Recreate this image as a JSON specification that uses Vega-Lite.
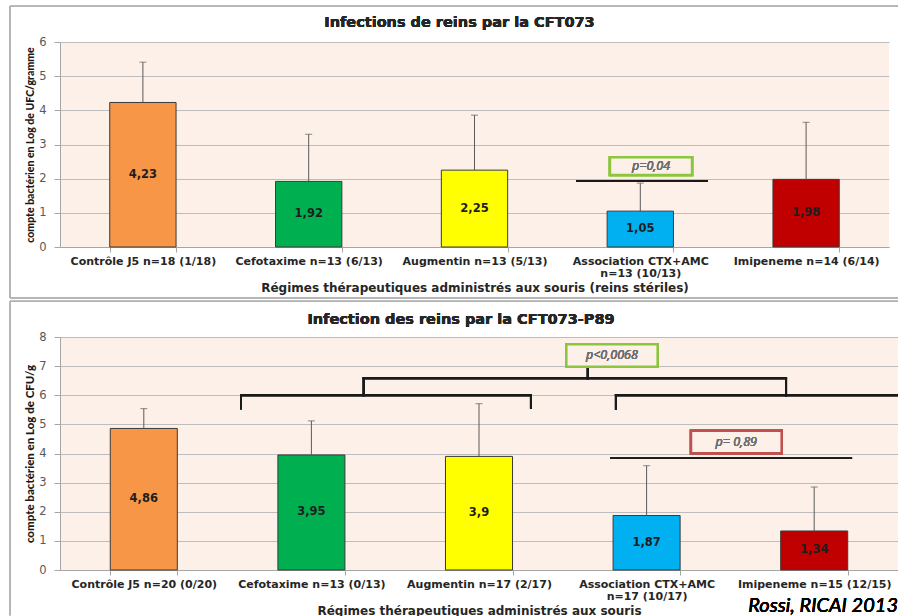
{
  "$schema": "https://vega.github.io/schema/vega-lite/v6.json",
  "padding": {"left": 9, "top": 5, "right": 0, "bottom": 0},
  "background": "white",
  "spacing": 90,
  "bounds": "flush",
  "vconcat": [
    {
      "width": 829,
      "height": 205,
      "data": {
        "values": [
          {"groupe": "Contrôle J5 n=18 (1/18)", "traitement": "Contrôle J5", "valeur": 4.23, "haut": 5.41},
          {"groupe": "Cefotaxime n=13 (6/13)", "traitement": "Cefotaxime", "valeur": 1.92, "haut": 3.30},
          {"groupe": "Augmentin n=13 (5/13)", "traitement": "Augmentin", "valeur": 2.25, "haut": 3.86},
          {"groupe": "Association CTX+AMC\nn=13 (10/13)", "traitement": "Association CTX+AMC", "valeur": 1.05, "haut": 1.87},
          {"groupe": "Imipeneme n=14 (6/14)", "traitement": "Imipeneme", "valeur": 1.98, "haut": 3.65}
        ]
      },
      "layer": [
        {
          "encoding": {
            "x": {
              "field": "groupe", "type": "nominal", "sort": null,
              "scale": {"paddingInner": 0.6, "paddingOuter": 0.3},
              "axis": {"title": "Régimes thérapeutiques administrés aux souris (reins stériles)"}
            }
          },
          "layer": [
            {
              "mark": {"type": "bar", "stroke": "#3a3a3a", "strokeWidth": 1},
              "encoding": {
                "y": {
                  "field": "valeur", "type": "quantitative",
                  "scale": {"domain": [0, 6], "nice": false},
                  "axis": {"values": [0, 1, 2, 3, 4, 5, 6], "title": "compte bactérien en Log de UFC/gramme", "titleFontSize": 10.5}
                },
                "color": {
                  "field": "traitement", "type": "nominal", "legend": null,
                  "scale": {
                    "domain": ["Contrôle J5", "Cefotaxime", "Augmentin", "Association CTX+AMC", "Imipeneme"],
                    "range": ["#f79646", "#00b050", "#ffff00", "#00b0f0", "#c00000"]
                  }
                }
              }
            },
            {
              "mark": {"type": "rule", "color": "#5a5a5a", "strokeWidth": 1},
              "encoding": {
                "y": {
                  "field": "valeur", "type": "quantitative",
                  "scale": {"domain": [0, 6], "nice": false},
                  "axis": {"values": [0, 1, 2, 3, 4, 5, 6], "title": "compte bactérien en Log de UFC/gramme", "titleFontSize": 10.5}
                },
                "y2": {"field": "haut"}
              }
            },
            {
              "mark": {"type": "tick", "color": "#5a5a5a", "thickness": 1, "size": 7},
              "encoding": {
                "y": {
                  "field": "haut", "type": "quantitative",
                  "scale": {"domain": [0, 6], "nice": false},
                  "axis": {"values": [0, 1, 2, 3, 4, 5, 6], "title": "compte bactérien en Log de UFC/gramme", "titleFontSize": 10.5}
                }
              }
            }
          ]
        },
        {
          "mark": {"type": "text", "fontWeight": "bold", "fontSize": 11.5, "color": "#1e1e1e", "baseline": "middle"},
          "encoding": {
            "x": {"field": "groupe", "type": "nominal", "sort": null, "scale": {"paddingInner": 0.6, "paddingOuter": 0.3}, "axis": null},
            "y": {"field": "valeur", "type": "quantitative", "scale": {"domain": [0, 12], "nice": false}, "axis": null},
            "text": {"field": "valeur", "type": "quantitative", "format": ".2~f"}
          }
        },
        {
          "layer": [
            {
              "mark": {"type": "rule", "color": "#b4b4b4", "strokeWidth": 1},
              "encoding": {
                "x": {"datum": -0.3016, "type": "quantitative", "scale": {"domain": [0, 5], "nice": false, "zero": false}, "axis": null},
                "x2": {"datum": 5.054},
                "y": {"datum": 7.05, "type": "quantitative", "scale": {"domain": [0, 6], "nice": false, "zero": false}, "axis": null}
              }
            },
            {
              "mark": {"type": "rule", "color": "#b4b4b4", "strokeWidth": 1},
              "encoding": {
                "x": {"datum": -0.3016, "type": "quantitative", "scale": {"domain": [0, 5], "nice": false, "zero": false}, "axis": null},
                "x2": {"datum": 5.054},
                "y": {"datum": -1.49, "type": "quantitative", "scale": {"domain": [0, 6], "nice": false, "zero": false}, "axis": null}
              }
            },
            {
              "mark": {"type": "rule", "color": "#b4b4b4", "strokeWidth": 1},
              "encoding": {
                "x": {"datum": -0.3016, "type": "quantitative", "scale": {"domain": [0, 5], "nice": false, "zero": false}, "axis": null},
                "y": {"datum": 7.05, "type": "quantitative", "scale": {"domain": [0, 6], "nice": false, "zero": false}, "axis": null},
                "y2": {"datum": -1.49}
              }
            },
            {
              "mark": {"type": "text", "text": "Infections de reins par la CFT073", "fontSize": 14.5, "fontWeight": "bold", "color": "#262626", "align": "center", "baseline": "alphabetic"},
              "encoding": {
                "x": {"datum": 2.4095, "type": "quantitative", "scale": {"domain": [0, 5], "nice": false, "zero": false}, "axis": null},
                "y": {"datum": 6.438, "type": "quantitative", "scale": {"domain": [0, 6], "nice": false, "zero": false}, "axis": null}
              }
            },
            {
              "mark": {"type": "rule", "color": "#1a1a1a", "strokeWidth": 1.5},
              "encoding": {
                "x": {"datum": 3.112, "type": "quantitative", "scale": {"domain": [0, 5], "nice": false, "zero": false}, "axis": null},
                "x2": {"datum": 3.908},
                "y": {"datum": 1.93, "type": "quantitative", "scale": {"domain": [0, 6], "nice": false, "zero": false}, "axis": null}
              }
            },
            {
              "mark": {"type": "rect", "fill": "#fdf0e9", "stroke": "#8cc63f", "strokeWidth": 2.5},
              "encoding": {
                "x": {"datum": 3.317, "type": "quantitative", "scale": {"domain": [0, 5], "nice": false, "zero": false}, "axis": null},
                "x2": {"datum": 3.812},
                "y": {"datum": 2.63, "type": "quantitative", "scale": {"domain": [0, 6], "nice": false, "zero": false}, "axis": null},
                "y2": {"datum": 2.11}
              }
            },
            {
              "mark": {"type": "text", "text": "p=0,04", "font": "Open Sans", "fontStyle": "italic", "fontWeight": "normal", "fontSize": 12.5, "color": "#6e6e6e", "baseline": "middle"},
              "encoding": {
                "x": {"datum": 3.565, "type": "quantitative", "scale": {"domain": [0, 5], "nice": false, "zero": false}, "axis": null},
                "y": {"datum": 2.37, "type": "quantitative", "scale": {"domain": [0, 6], "nice": false, "zero": false}, "axis": null}
              }
            }
          ]
        }
      ],
      "resolve": {"scale": {"x": "independent", "y": "independent"}}
    },
    {
      "width": 838,
      "height": 233,
      "data": {
        "values": [
          {"groupe": "Contrôle J5 n=20 (0/20)", "traitement": "Contrôle J5", "valeur": 4.86, "haut": 5.54},
          {"groupe": "Cefotaxime n=13 (0/13)", "traitement": "Cefotaxime", "valeur": 3.95, "haut": 5.12},
          {"groupe": "Augmentin n=17 (2/17)", "traitement": "Augmentin", "valeur": 3.9, "haut": 5.71},
          {"groupe": "Association CTX+AMC\nn=17 (10/17)", "traitement": "Association CTX+AMC", "valeur": 1.87, "haut": 3.58},
          {"groupe": "Imipeneme n=15 (12/15)", "traitement": "Imipeneme", "valeur": 1.34, "haut": 2.85}
        ]
      },
      "layer": [
        {
          "encoding": {
            "x": {
              "field": "groupe", "type": "nominal", "sort": null,
              "scale": {"paddingInner": 0.6, "paddingOuter": 0.3},
              "axis": {"title": "Régimes thérapeutiques administrés aux souris"}
            }
          },
          "layer": [
            {
              "mark": {"type": "bar", "stroke": "#3a3a3a", "strokeWidth": 1},
              "encoding": {
                "y": {
                  "field": "valeur", "type": "quantitative",
                  "scale": {"domain": [0, 8], "nice": false},
                  "axis": {"values": [0, 1, 2, 3, 4, 5, 6, 7, 8], "title": "compte bactérien en Log de CFU/g", "titleFontSize": 11.5}
                },
                "color": {
                  "field": "traitement", "type": "nominal", "legend": null,
                  "scale": {
                    "domain": ["Contrôle J5", "Cefotaxime", "Augmentin", "Association CTX+AMC", "Imipeneme"],
                    "range": ["#f79646", "#00b050", "#ffff00", "#00b0f0", "#c00000"]
                  }
                }
              }
            },
            {
              "mark": {"type": "rule", "color": "#5a5a5a", "strokeWidth": 1},
              "encoding": {
                "y": {
                  "field": "valeur", "type": "quantitative",
                  "scale": {"domain": [0, 8], "nice": false},
                  "axis": {"values": [0, 1, 2, 3, 4, 5, 6, 7, 8], "title": "compte bactérien en Log de CFU/g", "titleFontSize": 11.5}
                },
                "y2": {"field": "haut"}
              }
            },
            {
              "mark": {"type": "tick", "color": "#5a5a5a", "thickness": 1, "size": 7},
              "encoding": {
                "y": {
                  "field": "haut", "type": "quantitative",
                  "scale": {"domain": [0, 8], "nice": false},
                  "axis": {"values": [0, 1, 2, 3, 4, 5, 6, 7, 8], "title": "compte bactérien en Log de CFU/g", "titleFontSize": 11.5}
                }
              }
            }
          ]
        },
        {
          "mark": {"type": "text", "fontWeight": "bold", "fontSize": 11.5, "color": "#1e1e1e", "baseline": "middle"},
          "encoding": {
            "x": {"field": "groupe", "type": "nominal", "sort": null, "scale": {"paddingInner": 0.6, "paddingOuter": 0.3}, "axis": null},
            "y": {"field": "valeur", "type": "quantitative", "scale": {"domain": [0, 16], "nice": false}, "axis": null},
            "text": {"field": "valeur", "type": "quantitative", "format": ".2~f"}
          }
        },
        {
          "layer": [
            {
              "mark": {"type": "rule", "color": "#b4b4b4", "strokeWidth": 1},
              "encoding": {
                "x": {"datum": -0.298, "type": "quantitative", "scale": {"domain": [0, 5], "nice": false, "zero": false}, "axis": null},
                "x2": {"datum": 5.0},
                "y": {"datum": 9.23, "type": "quantitative", "scale": {"domain": [0, 8], "nice": false, "zero": false}, "axis": null}
              }
            },
            {
              "mark": {"type": "rule", "color": "#b4b4b4", "strokeWidth": 1},
              "encoding": {
                "x": {"datum": -0.298, "type": "quantitative", "scale": {"domain": [0, 5], "nice": false, "zero": false}, "axis": null},
                "y": {"datum": 9.23, "type": "quantitative", "scale": {"domain": [0, 8], "nice": false, "zero": false}, "axis": null},
                "y2": {"datum": -1.56}
              }
            },
            {
              "mark": {"type": "text", "text": "Infection des reins par la CFT073-P89", "fontSize": 14.5, "fontWeight": "bold", "color": "#262626", "align": "center", "baseline": "alphabetic"},
              "encoding": {
                "x": {"datum": 2.3926, "type": "quantitative", "scale": {"domain": [0, 5], "nice": false, "zero": false}, "axis": null},
                "y": {"datum": 8.454, "type": "quantitative", "scale": {"domain": [0, 8], "nice": false, "zero": false}, "axis": null}
              }
            },
            {
              "mark": {"type": "rule", "color": "#1a1a1a", "strokeWidth": 2, "strokeCap": "square"},
              "encoding": {
                "x": {"datum": 1.080, "type": "quantitative", "scale": {"domain": [0, 5], "nice": false, "zero": false}, "axis": null},
                "x2": {"datum": 2.810},
                "y": {"datum": 6.0, "type": "quantitative", "scale": {"domain": [0, 8], "nice": false, "zero": false}, "axis": null}
              }
            },
            {
              "mark": {"type": "rule", "color": "#1a1a1a", "strokeWidth": 2, "strokeCap": "square"},
              "encoding": {
                "x": {"datum": 1.080, "type": "quantitative", "scale": {"domain": [0, 5], "nice": false, "zero": false}, "axis": null},
                "y": {"datum": 6.0, "type": "quantitative", "scale": {"domain": [0, 8], "nice": false, "zero": false}, "axis": null},
                "y2": {"datum": 5.55}
              }
            },
            {
              "mark": {"type": "rule", "color": "#1a1a1a", "strokeWidth": 2, "strokeCap": "square"},
              "encoding": {
                "x": {"datum": 2.810, "type": "quantitative", "scale": {"domain": [0, 5], "nice": false, "zero": false}, "axis": null},
                "y": {"datum": 6.0, "type": "quantitative", "scale": {"domain": [0, 8], "nice": false, "zero": false}, "axis": null},
                "y2": {"datum": 5.57}
              }
            },
            {
              "mark": {"type": "rule", "color": "#1a1a1a", "strokeWidth": 2, "strokeCap": "square"},
              "encoding": {
                "x": {"datum": 3.317, "type": "quantitative", "scale": {"domain": [0, 5], "nice": false, "zero": false}, "axis": null},
                "x2": {"datum": 5.0},
                "y": {"datum": 6.0, "type": "quantitative", "scale": {"domain": [0, 8], "nice": false, "zero": false}, "axis": null}
              }
            },
            {
              "mark": {"type": "rule", "color": "#1a1a1a", "strokeWidth": 2, "strokeCap": "square"},
              "encoding": {
                "x": {"datum": 3.317, "type": "quantitative", "scale": {"domain": [0, 5], "nice": false, "zero": false}, "axis": null},
                "y": {"datum": 6.0, "type": "quantitative", "scale": {"domain": [0, 8], "nice": false, "zero": false}, "axis": null},
                "y2": {"datum": 5.53}
              }
            },
            {
              "mark": {"type": "rule", "color": "#1a1a1a", "strokeWidth": 2, "strokeCap": "square"},
              "encoding": {
                "x": {"datum": 1.812, "type": "quantitative", "scale": {"domain": [0, 5], "nice": false, "zero": false}, "axis": null},
                "x2": {"datum": 4.332},
                "y": {"datum": 6.58, "type": "quantitative", "scale": {"domain": [0, 8], "nice": false, "zero": false}, "axis": null}
              }
            },
            {
              "mark": {"type": "rule", "color": "#1a1a1a", "strokeWidth": 2, "strokeCap": "square"},
              "encoding": {
                "x": {"datum": 1.812, "type": "quantitative", "scale": {"domain": [0, 5], "nice": false, "zero": false}, "axis": null},
                "y": {"datum": 6.58, "type": "quantitative", "scale": {"domain": [0, 8], "nice": false, "zero": false}, "axis": null},
                "y2": {"datum": 6.0}
              }
            },
            {
              "mark": {"type": "rule", "color": "#1a1a1a", "strokeWidth": 2, "strokeCap": "square"},
              "encoding": {
                "x": {"datum": 4.332, "type": "quantitative", "scale": {"domain": [0, 5], "nice": false, "zero": false}, "axis": null},
                "y": {"datum": 6.58, "type": "quantitative", "scale": {"domain": [0, 8], "nice": false, "zero": false}, "axis": null},
                "y2": {"datum": 5.98}
              }
            },
            {
              "mark": {"type": "rule", "color": "#1a1a1a", "strokeWidth": 2, "strokeCap": "square"},
              "encoding": {
                "x": {"datum": 3.149, "type": "quantitative", "scale": {"domain": [0, 5], "nice": false, "zero": false}, "axis": null},
                "y": {"datum": 6.58, "type": "quantitative", "scale": {"domain": [0, 8], "nice": false, "zero": false}, "axis": null},
                "y2": {"datum": 6.98}
              }
            },
            {
              "mark": {"type": "rule", "color": "#1a1a1a", "strokeWidth": 1.5},
              "encoding": {
                "x": {"datum": 3.282, "type": "quantitative", "scale": {"domain": [0, 5], "nice": false, "zero": false}, "axis": null},
                "x2": {"datum": 4.726},
                "y": {"datum": 3.84, "type": "quantitative", "scale": {"domain": [0, 8], "nice": false, "zero": false}, "axis": null}
              }
            },
            {
              "mark": {"type": "rect", "fill": "#fdf0e9", "stroke": "#8cc63f", "strokeWidth": 2.5},
              "encoding": {
                "x": {"datum": 3.021, "type": "quantitative", "scale": {"domain": [0, 5], "nice": false, "zero": false}, "axis": null},
                "x2": {"datum": 3.566},
                "y": {"datum": 7.75, "type": "quantitative", "scale": {"domain": [0, 8], "nice": false, "zero": false}, "axis": null},
                "y2": {"datum": 6.98}
              }
            },
            {
              "mark": {"type": "text", "text": "p<0,0068", "font": "Open Sans", "fontStyle": "italic", "fontWeight": "normal", "fontSize": 12.5, "color": "#6e6e6e", "baseline": "middle"},
              "encoding": {
                "x": {"datum": 3.293, "type": "quantitative", "scale": {"domain": [0, 5], "nice": false, "zero": false}, "axis": null},
                "y": {"datum": 7.365, "type": "quantitative", "scale": {"domain": [0, 8], "nice": false, "zero": false}, "axis": null}
              }
            },
            {
              "mark": {"type": "rect", "fill": "#fdf0e9", "stroke": "#c0504d", "strokeWidth": 2.5},
              "encoding": {
                "x": {"datum": 3.765, "type": "quantitative", "scale": {"domain": [0, 5], "nice": false, "zero": false}, "axis": null},
                "x2": {"datum": 4.306},
                "y": {"datum": 4.78, "type": "quantitative", "scale": {"domain": [0, 8], "nice": false, "zero": false}, "axis": null},
                "y2": {"datum": 4.01}
              }
            },
            {
              "mark": {"type": "text", "text": "p= 0,89", "font": "Open Sans", "fontStyle": "italic", "fontWeight": "normal", "fontSize": 12.5, "color": "#6e6e6e", "baseline": "middle"},
              "encoding": {
                "x": {"datum": 4.035, "type": "quantitative", "scale": {"domain": [0, 5], "nice": false, "zero": false}, "axis": null},
                "y": {"datum": 4.395, "type": "quantitative", "scale": {"domain": [0, 8], "nice": false, "zero": false}, "axis": null}
              }
            },
            {
              "mark": {"type": "text", "text": "Rossi, RICAI 2013", "font": "Lato", "fontStyle": "italic", "fontWeight": "normal", "fontSize": 20, "color": "#000000", "align": "right", "baseline": "alphabetic"},
              "encoding": {
                "x": {"datum": 5.0, "type": "quantitative", "scale": {"domain": [0, 5], "nice": false, "zero": false}, "axis": null},
                "y": {"datum": -1.454, "type": "quantitative", "scale": {"domain": [0, 8], "nice": false, "zero": false}, "axis": null}
              }
            }
          ]
        }
      ],
      "resolve": {"scale": {"x": "independent", "y": "independent"}}
    }
  ],
  "config": {
    "font": "DejaVu Sans",
    "locale": {"number": {"decimal": ",", "thousands": "\u00a0", "grouping": [3], "currency": ["", "\u00a0€"]}},
    "view": {"fill": "#fdf0e9", "stroke": null},
    "axis": {"domainColor": "#a6a6a6", "tickColor": "#a6a6a6", "gridColor": "#bdbdbd", "labelFont": "DejaVu Sans"},
    "axisX": {
      "tickBand": "extent", "tickSize": 5, "labelAngle": 0, "grid": false,
      "labelFontWeight": "bold", "labelFontSize": 11, "labelColor": "#262626",
      "labelPadding": 3, "labelLimit": 300, "labelOverlap": false, "labelLineHeight": 12,
      "labelExpr": "split(datum.label, '\\n')",
      "titleFont": "DejaVu Sans", "titleFontSize": 12, "titleFontWeight": "bold", "titleColor": "#262626", "titlePadding": 4
    },
    "axisY": {
      "grid": true, "tickSize": 6, "labelColor": "#595959", "labelFontSize": 11.5, "labelPadding": 8, "labelOverlap": false,
      "titleFont": "Lato", "titleFontWeight": 900, "titleColor": "#1a1a1a", "titlePadding": 3
    }
  }
}
